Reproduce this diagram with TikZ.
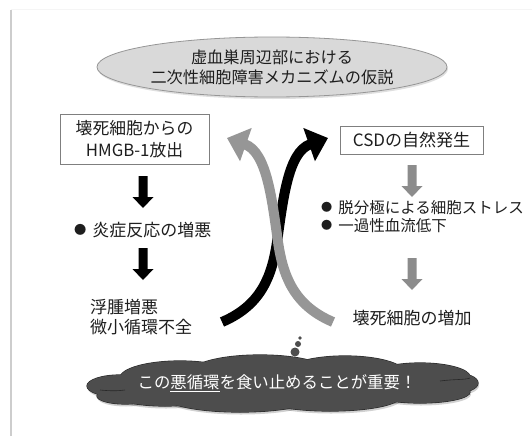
\documentclass[tikz,border=0pt]{standalone}
\usepackage{fontspec}
\usepackage{graphicx}
\setmainfont{Noto Sans CJK JP}
\usetikzlibrary{shapes.geometric,arrows.meta,shadows}
\definecolor{ellfill}{RGB}{217,217,217}
\definecolor{ellline}{RGB}{150,150,150}
\definecolor{boxline}{RGB}{127,127,127}
\definecolor{arrgray}{RGB}{140,140,140}
\definecolor{curvegray}{RGB}{150,150,150}
\definecolor{cloudfill}{RGB}{77,77,77}
\definecolor{cloudline}{RGB}{40,40,40}
\definecolor{framegray}{RGB}{205,205,205}
\definecolor{txtcol}{RGB}{30,30,30}
\newcommand{\mybul}{\raisebox{1.8pt}{\scalebox{0.72}{●}}}
\begin{document}
\begin{tikzpicture}[x=1pt,y=-1pt,
  txt/.style={font=\fontsize{17}{20}\selectfont, inner sep=0pt, text=txtcol},
  bx/.style={txt, draw=boxline, line width=0.8pt, fill=white, align=center},
  pics/downarr/.style={code={\fill (-4.5,0) -- (4.5,0) -- (4.5,21) -- (10.5,21) -- (0,32) -- (-10.5,21) -- (-4.5,21) -- cycle;}},
  curve/.style={line width=10pt, -{Triangle[width=34pt,length=20pt]}}
]
\useasboundingbox (0,0) rectangle (532,436);
\fill[white] (0,0) rectangle (532,436);
\draw[framegray, line width=1.5pt] (11,436) -- (11,10);
\draw[black!4, line width=1pt] (11,10) -- (532,10);

% title ellipse
\node[ellipse, txt, font=\fontsize{16.2}{20}\selectfont, align=center, minimum width=350pt, minimum height=60pt,
      fill=ellfill, draw=ellline, line width=0.8pt,
      drop shadow={opacity=0.25, shadow xshift=1pt, shadow yshift=-2pt}]
  (title) at (272,67) {虚血巣周辺部における\\二次性細胞障害メカニズムの仮説};

% left column
\node[bx, minimum width=149pt, minimum height=50pt, font=\fontsize{16.8}{22}\selectfont]
  (hmgb) at (134.5,139) {壊死細胞からの\\HMGB-1放出};
\pic[fill=black] at (143,176) {downarr};
\node[txt, anchor=west] (infl) at (74,230) {\mybul\hspace{6pt}炎症反応の増悪};
\pic[fill=black] at (143,248) {downarr};
\node[txt, anchor=west, align=left] (edema) at (90,317) {浮腫増悪\\微小循環不全};

% right column
\node[bx, minimum width=143pt, minimum height=28pt] (csd) at (411.5,140) {CSDの自然発生};
\pic[fill=arrgray] at (412,165) {downarr};
\node[txt, anchor=west, align=left, font=\fontsize{15.5}{17.5}\selectfont] (stress) at (321,216.5)
  {\mybul\hspace{6pt}脱分極による細胞ストレス\\\mybul\hspace{6pt}一過性血流低下};
\pic[fill=arrgray] at (412,258) {downarr};
\node[txt] (necro) at (412,318) {壊死細胞の増加};

% crossing curved arrows
\coordinate (bs) at (222,322);
\coordinate (be) at (328,138);
\coordinate (gs) at (333,322);
\coordinate (ge) at (227,138);
\draw[curve, black] (bs) .. controls (262,305) and (272,275) .. (277,242)
  .. controls (283,200) and (288,152) .. (be);
\draw[curve, curvegray] (gs) .. controls (293,305) and (283,275) .. (278,242)
  .. controls (272,200) and (267,152) .. (ge);

% thought bubbles
\fill[cloudfill] (295,352) circle (4.5);
\fill[cloudfill] (298,344) circle (3);
\fill[cloudfill] (300,338) circle (1.8);

% bottom cloud built from puffs
\def\puffs{120/386/33/11, 125/396/28/8, 180/378/60/17, 260/373/70/18,
  345/373/60/17, 420/377/50/14, 455/383/23/10, 420/392/50/11,
  330/397/70/14, 240/397/75/15, 165/395/50/11}
\foreach \cx/\cy/\rx/\ry in \puffs
  \fill[black, opacity=0.18] (\cx+1,\cy+2.5) ellipse [x radius=\rx, y radius=\ry];
\foreach \cx/\cy/\rx/\ry in \puffs
  \draw[cloudline, line width=1.2pt, fill=cloudfill] (\cx,\cy) ellipse [x radius=\rx, y radius=\ry];
\foreach \cx/\cy/\rx/\ry in \puffs
  \fill[cloudfill] (\cx,\cy) ellipse [x radius=\rx, y radius=\ry];
\draw[cloudline, line width=0.6pt] (440,381) .. controls (455,379) and (465,380) .. (470,378);
\draw[cloudline, line width=0.6pt] (100,390) .. controls (110,391) and (118,391) .. (125,390);
\node[font=\fontsize{16.4}{20}\selectfont, text=white, inner sep=0pt]
  (msg) at (277,383) {この\underline{悪循環}を食い止めることが重要！};
\end{tikzpicture}
\end{document}
